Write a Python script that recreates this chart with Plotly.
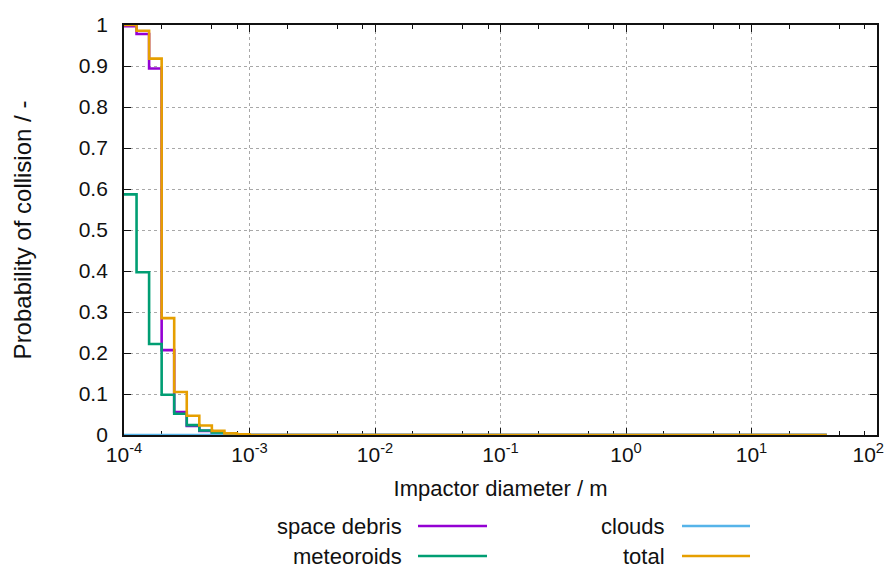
import plotly.graph_objects as go

# Bin edges (log10 of impactor diameter in m), 0.1-decade bins
edge_exponents = [-4.0, -3.9, -3.8, -3.7, -3.6, -3.5, -3.4, -3.3, -3.2, -3.1,
                  -3.0, -2.9, -2.8, -2.7, -2.6, -2.5, -2.4, -2.3, -2.2, -2.1,
                  -2.0, -1.9, -1.8, -1.7, -1.6, -1.5, -1.4, -1.3, -1.2, -1.1,
                  -1.0, -0.9, -0.8, -0.7, -0.6, -0.5, -0.4, -0.3, -0.2, -0.1,
                  0.0, 0.1, 0.2, 0.3, 0.4, 0.5, 0.6, 0.7, 0.8, 0.9,
                  1.0, 1.1, 1.2, 1.3, 1.4, 1.5, 1.6]
n_bins = len(edge_exponents) - 1

space_debris_head = [0.997, 0.978, 0.894, 0.207, 0.056, 0.022, 0.010, 0.004, 0.0015, 0.0005]
meteoroids_head = [0.587, 0.397, 0.222, 0.098, 0.052, 0.024, 0.011, 0.005, 0.002, 0.001]
clouds_head = [0.0]
total_head = [1.0, 0.986, 0.918, 0.285, 0.105, 0.047, 0.023, 0.010, 0.004, 0.0015]

def full(head):
    vals = list(head) + [0.0] * (n_bins - len(head))
    return vals + [vals[-1]]  # repeat last value to close final step

x_edges = [10 ** e for e in edge_exponents]

series = [
    ("space debris", space_debris_head, "#9400d3"),
    ("meteoroids", meteoroids_head, "#009e73"),
    ("clouds", clouds_head, "#56b4e9"),
    ("total", total_head, "#e69f00"),
]

x_tick_vals = [1e-4, 1e-3, 1e-2, 1e-1, 1e0, 1e1, 1e2]
x_tick_text = ["10<sup>-4</sup>", "10<sup>-3</sup>", "10<sup>-2</sup>", "10<sup>-1</sup>",
               "10<sup>0</sup>", "10<sup>1</sup>",
               "10<sup>2</sup>&nbsp;&nbsp;&nbsp;"]
y_tick_vals = [0, 0.1, 0.2, 0.3, 0.4, 0.5, 0.6, 0.7, 0.8, 0.9, 1]
y_tick_text = ["0", "0.1", "0.2", "0.3", "0.4", "0.5", "0.6", "0.7", "0.8", "0.9", "1"]

minor_vals = []
for d in x_tick_vals[:-1]:
    for m in (2, 5, 8):
        minor_vals.append(d * m)

fig = go.Figure()
for name, head, color in series:
    fig.add_trace(go.Scatter(x=x_edges, y=full(head), mode="lines", name=name,
                             line=dict(color=color, width=2.6, shape="hv"),
                             showlegend=False))

FONT = "Liberation Sans"
# page has an 8px body margin: figure is placed at (8, 8)
fig.update_layout(
    width=888, height=560,
    margin=dict(l=116, r=19, t=17, b=133, autoexpand=False),
    paper_bgcolor="white", plot_bgcolor="white",
    font=dict(family=FONT, size=21, color="#111111"),
    xaxis=dict(type="log", range=[-4, 2], tickmode="array", tickvals=x_tick_vals,
               ticktext=x_tick_text, ticks="inside", ticklen=7, tickcolor="#111111",
               showline=True, linecolor="#111111", linewidth=1.8, mirror="ticks",
               showgrid=True, gridcolor="#a8a8a8", griddash="dot", gridwidth=1,
               zeroline=False, layer="below traces", ticklabeloverflow="allow",
               minor=dict(tickmode="array", tickvals=minor_vals, ticks="inside",
                          ticklen=4, tickcolor="#111111", showgrid=False),
               title=dict(text="Impactor diameter / m", standoff=16,
                          font=dict(size=22)),
               tickfont=dict(size=21)),
    yaxis=dict(range=[0, 1], tickmode="array", tickvals=y_tick_vals, ticktext=y_tick_text,
               ticks="inside", ticklen=7, tickcolor="#111111",
               showline=True, linecolor="#111111", linewidth=1.8, mirror="ticks",
               showgrid=True, gridcolor="#a8a8a8", griddash="dot", gridwidth=1,
               zeroline=False, layer="below traces", ticklabelstandoff=10,
               title=dict(text="Probability of collision / -", standoff=40,
                          font=dict(size=24)),
               tickfont=dict(size=21)),
)

# Manual legend (text right-aligned, sample line to the right); paper coords of plot area
def px_x(p):
    return (p - 124) / 753.0

def px_y(p):
    return (435 - p) / 410.0

legend_items = [
    ("space debris", "#9400d3", 404, 418, 487, 526),
    ("meteoroids", "#009e73", 404, 418, 487, 556),
    ("clouds", "#56b4e9", 667, 682, 750, 526),
    ("total", "#e69f00", 667, 682, 750, 556),
]
for text, color, tx, l0, l1, yy in legend_items:
    fig.add_annotation(x=px_x(tx), y=px_y(yy), xref="paper", yref="paper", text=text,
                       showarrow=False, xanchor="right", yanchor="middle",
                       font=dict(size=22, family=FONT, color="#111111"))
    fig.add_shape(type="line", xref="paper", yref="paper", x0=px_x(l0), x1=px_x(l1),
                  y0=px_y(yy), y1=px_y(yy), line=dict(color=color, width=2.6))

fig.write_html("out.html")
